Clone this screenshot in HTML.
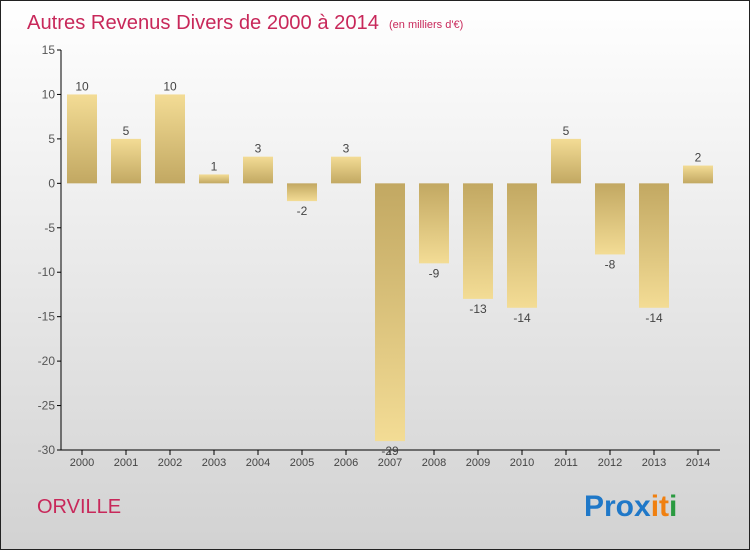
<!DOCTYPE html>
<html><head><meta charset="utf-8"><style>
body{margin:0;width:750px;height:550px;overflow:hidden;font-family:"Liberation Sans",sans-serif}
</style></head><body>
<svg id="chart" width="750" height="550" xmlns="http://www.w3.org/2000/svg">
<defs>
<linearGradient id="bg" x1="0" y1="0" x2="0" y2="1"><stop offset="0" stop-color="#ffffff"/><stop offset="1" stop-color="#d2d2d2"/></linearGradient>
<linearGradient id="gp" x1="0" y1="0" x2="0" y2="1"><stop offset="0" stop-color="#f3dc95"/><stop offset="1" stop-color="#c2a862"/></linearGradient>
<linearGradient id="gn" x1="0" y1="0" x2="0" y2="1"><stop offset="0" stop-color="#c2a862"/><stop offset="1" stop-color="#f3dc95"/></linearGradient>
</defs>
<rect x="0.5" y="0.5" width="749" height="549" fill="url(#bg)" stroke="#222"/>
<text x="27" y="29" font-size="20" fill="#c8285a" textLength="352" lengthAdjust="spacingAndGlyphs">Autres Revenus Divers de 2000 à 2014</text>
<text x="389" y="28" font-size="11" fill="#c8285a">(en milliers d'€)</text>
<text x="37" y="513" font-size="20" fill="#c8285a">ORVILLE</text>
<text x="584" y="516" font-size="30" font-weight="bold"><tspan fill="#1f78c8">Prox</tspan><tspan fill="#f08010">it</tspan><tspan fill="#2a9a40">i</tspan></text>
<g id="plot"></g>
</svg>
<script>
const years=["2000","2001","2002","2003","2004","2005","2006","2007","2008","2009","2010","2011","2012","2013","2014"];
const values=[10,5,10,1,3,-2,3,-29,-9,-13,-14,5,-8,-14,2];
const yTicks=[15,10,5,0,-5,-10,-15,-20,-25,-30];
const NS="http://www.w3.org/2000/svg";
const g=document.getElementById('plot');
const y=v=>50+(15-v)*400/45;
const x=i=>82+i*44;
function mk(t,a){const e=document.createElementNS(NS,t);for(const k in a)e.setAttribute(k,a[k]);g.appendChild(e);return e;}
let ax=mk('line',{x1:61,y1:50,x2:61,y2:450,stroke:'#000'});


let bx=mk('line',{x1:61,y1:450,x2:720,y2:450,stroke:'#000'});


yTicks.forEach(v=>{
 mk('line',{x1:57,y1:y(v),x2:61,y2:y(v),stroke:'#000'});
 const t=mk('text',{x:55,y:y(v)+4,'text-anchor':'end','font-size':12,fill:'#555'});t.textContent=v;
 
 
});
years.forEach((yr,i)=>{
 const v=values[i],top=Math.min(y(v),y(0)),h=Math.abs(y(v)-y(0));
 const r=mk('rect',{x:x(i)-15,y:top,width:30,height:Math.max(h,1),fill:v>=0?'url(#gp)':'url(#gn)'});
 
 
 mk('line',{x1:x(i),y1:450,x2:x(i),y2:455,stroke:'#000'});
 const t=mk('text',{x:x(i),y:466,'text-anchor':'middle','font-size':11,fill:'#444'});t.textContent=yr;
 
 
 const l=mk('text',{x:x(i),y:v>=0?y(v)-4:y(v)+14,'text-anchor':'middle','font-size':12,fill:'#444'});l.textContent=v;
 
 
});
</script>
</body></html>
